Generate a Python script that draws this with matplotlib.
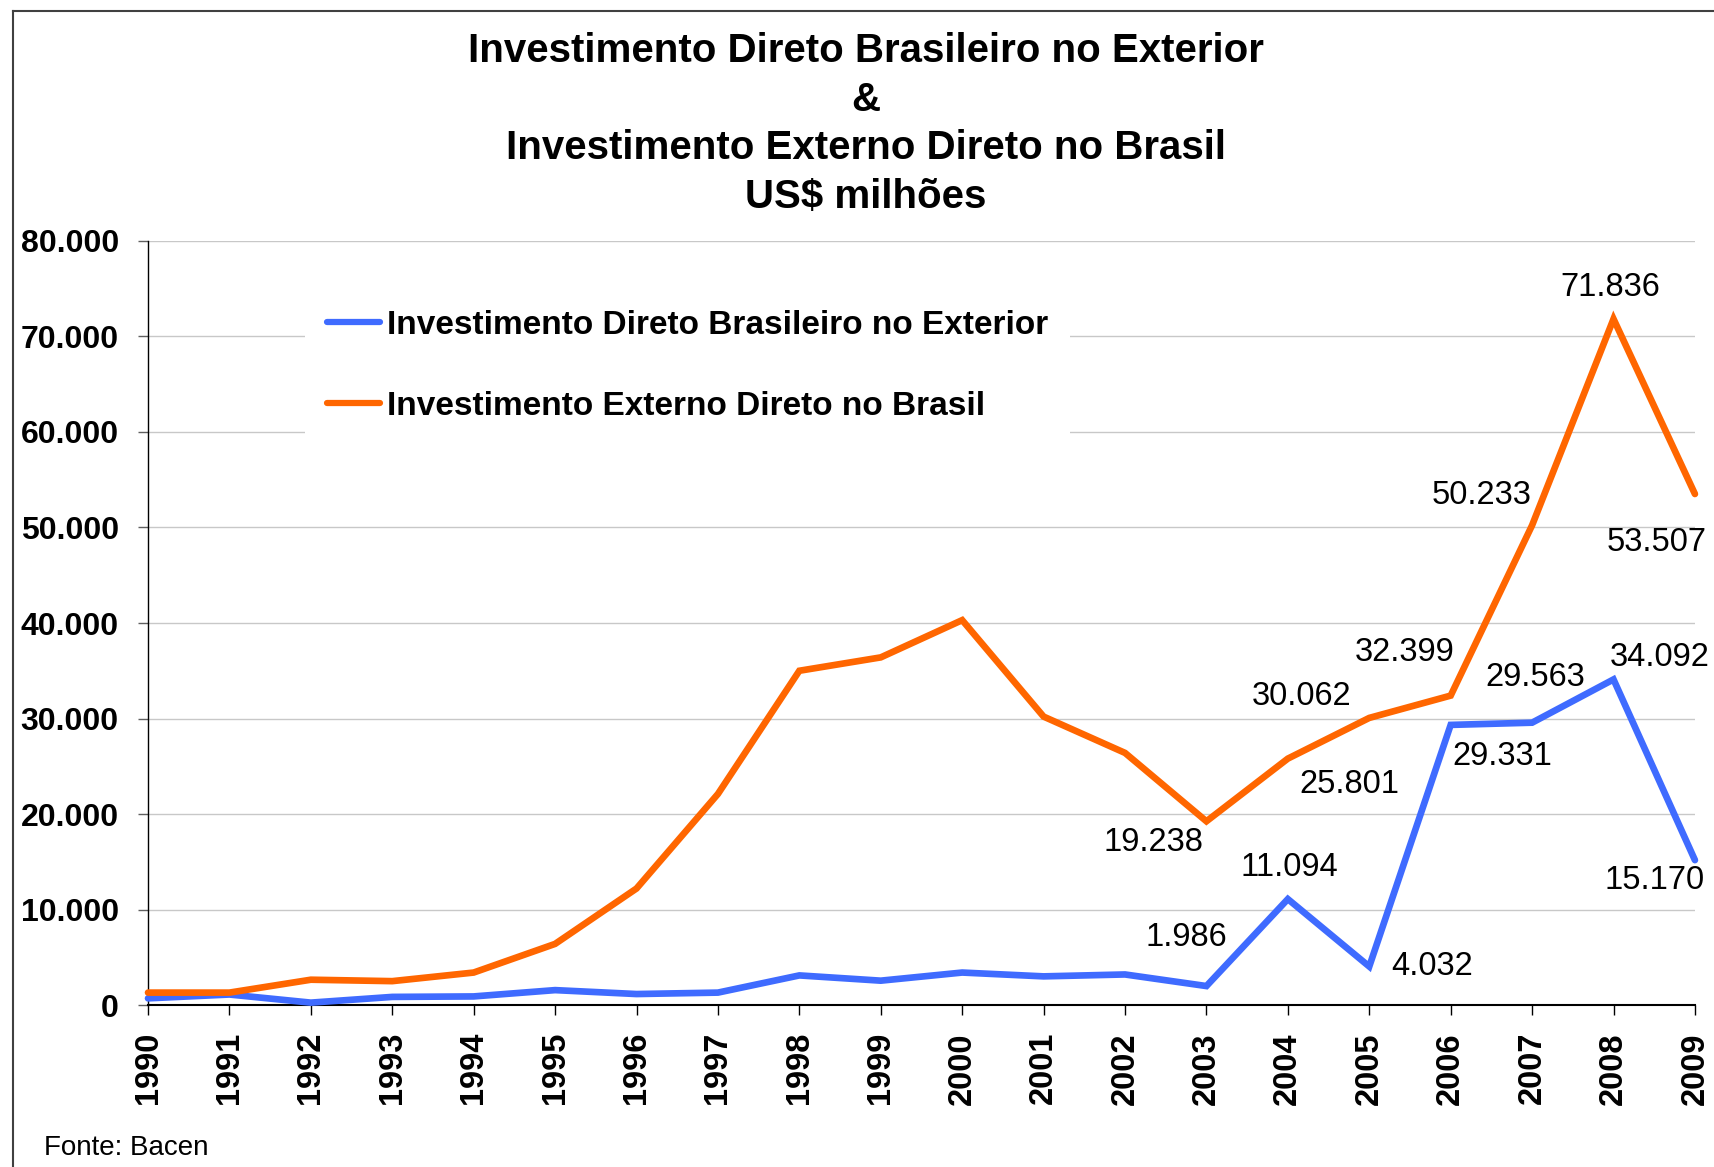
import matplotlib
matplotlib.use("Agg")
import matplotlib.pyplot as plt
from matplotlib.lines import Line2D
from matplotlib.ticker import FuncFormatter

"""
DATA (US$ milhões)
"""
years = list(range(1990, 2010))
bde = [700, 1100, 250, 850, 900, 1560, 1150, 1300, 3100, 2550,
       3400, 3000, 3200, 1986, 11094, 4032, 29331, 29563, 34092, 15170]
ied = [1300, 1300, 2650, 2500, 3400, 6400, 12200, 22100, 35000, 36400,
       40300, 30200, 26400, 19238, 25801, 30062, 32399, 50233, 71836, 53507]

name_bde = "Investimento Direto Brasileiro no Exterior"
name_ied = "Investimento Externo Direto no Brasil"
title_lines = ["Investimento Direto Brasileiro no Exterior", "&",
               "Investimento Externo Direto no Brasil", "US$ milhões"]

# Years that get a value label, and where the label sits (pixel offsets)
label_years = [2003, 2004, 2005, 2006, 2007, 2008, 2009]
bde_offsets = [(-20, 49), (2, 32), (63, 0), (52, -32), (3, 45), (46, 22), (-40, -20)]
ied_offsets = [(-53, -21), (62, -26), (-68, 21), (-46, 43), (-51, 30), (-3, 31), (-38, -48)]

blue = "#3F6BFF"
orange = "#FF6600"

plt.rcParams['font.family'] = ['Liberation Sans', 'DejaVu Sans']


def fmt_br(v):
    return f"{int(round(v)):,}".replace(",", ".")


fig = plt.figure(figsize=(17.15, 11.67), dpi=100)
ax = fig.add_axes([0.0863, 0.1388, 0.902, 0.6547])

# Lines
ax.plot(years, bde, color=blue, lw=4.8, label=name_bde, solid_joinstyle='miter',
        solid_capstyle='round', clip_on=False, zorder=3)
ax.plot(years, ied, color=orange, lw=4.8, label=name_ied, solid_joinstyle='miter',
        solid_capstyle='round', clip_on=False, zorder=3)

# Value labels
for series, offs in [(bde, bde_offsets), (ied, ied_offsets)]:
    for yr, (dx, dy) in zip(label_years, offs):
        v = series[years.index(yr)]
        ax.annotate(fmt_br(v), xy=(yr, v), xytext=(dx, dy), textcoords='offset pixels',
                    ha='center', va='center', fontsize=23.5, color='black',
                    annotation_clip=False, zorder=5)

# Axes setup
ax.set_xlim(1990, 2009)
ax.set_ylim(0, 80000)
ax.set_xticks(years)
ax.set_xticklabels([str(y) for y in years], rotation=90, fontsize=23.5, fontweight='bold')
ax.set_yticks(range(0, 80001, 10000))
ax.yaxis.set_major_formatter(FuncFormatter(lambda v, p: fmt_br(v)))
for lab in ax.get_yticklabels():
    lab.set_fontsize(23)
    lab.set_fontweight('bold')
ax.tick_params(axis='x', direction='out', length=7, width=1, color='black', pad=12.5)
ax.tick_params(axis='y', direction='out', length=7, width=1, color='#606060', pad=14)
ax.grid(axis='y', color='#C8C8C8', lw=1)
ax.set_axisbelow(True)
for s in ['top', 'right']:
    ax.spines[s].set_visible(False)
ax.spines['left'].set_color('black')
ax.spines['left'].set_linewidth(1)
ax.spines['bottom'].set_color('black')
ax.spines['bottom'].set_linewidth(1.5)

# Legend
leg = ax.legend(loc='upper left', bbox_to_anchor=(0.178, 0.753), bbox_transform=fig.transFigure,
                borderaxespad=0, frameon=True, fancybox=False, edgecolor='none',
                facecolor='white', framealpha=1, fontsize=24, handlelength=1.6,
                handletextpad=0.2, labelspacing=1.5, borderpad=0.65)
for t in leg.get_texts():
    t.set_fontweight('bold')
for h in leg.get_lines():
    h.set_linewidth(4.5)
leg.set_zorder(4)

# Title
fig.text(0.505, 1 - 208 / 1167, "\n".join(title_lines), ha='center', va='baseline',
         fontsize=29, fontweight='bold', linespacing=1.355)

# Source
fig.text(44 / 1715, 1 - 1148 / 1167, "Fonte: Bacen", ha='left', va='center', fontsize=20)

# Outer frame (top and left edges)
fig.add_artist(Line2D([13 / 1715, 1], [1 - 11 / 1167, 1 - 11 / 1167], color='#404040', lw=1.5))
fig.add_artist(Line2D([13 / 1715, 13 / 1715], [0, 1 - 11 / 1167], color='#404040', lw=1.5))

fig.savefig("out.png", dpi=100, facecolor='white')
